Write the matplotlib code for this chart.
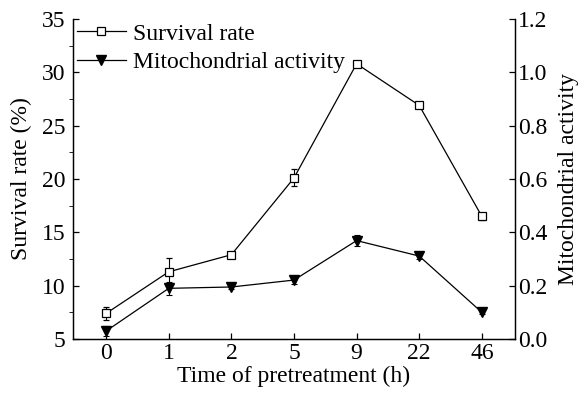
import matplotlib
matplotlib.use("Agg")
import matplotlib.pyplot as plt
from matplotlib.lines import Line2D
from matplotlib.ticker import MultipleLocator, FormatStrFormatter

plt.rcParams['font.family'] = ['Liberation Serif', 'DejaVu Serif']

# Pretreatment times (h), shown as evenly spaced categories
times = ["0", "1", "2", "5", "9", "22", "46"]

# Survival rate (%) with standard deviation
survival = [7.4, 11.3, 12.9, 20.1, 30.8, 26.9, 16.5]
survival_err = [0.6, 1.3, 0.3, 0.8, 0.3, 0.2, 0.3]

# Mitochondrial activity with standard deviation
mito = [0.03, 0.19, 0.195, 0.221, 0.369, 0.311, 0.10]
mito_err = [0.02, 0.025, 0.008, 0.015, 0.02, 0.01, 0.006]

FS = 17
LW = 0.9
fig = plt.figure(figsize=(5.82, 3.95), dpi=100)
ax = fig.add_axes([0.1254, 0.1418, 0.7595, 0.8101])
ax2 = ax.twinx()

x = list(range(len(times)))

sq_style = dict(color='black', lw=LW, marker='s', markersize=5.5,
                markerfacecolor='white', markeredgecolor='black',
                markeredgewidth=LW)
tri_style = dict(color='black', lw=LW, marker='v', markersize=7,
                 markerfacecolor='black', markeredgecolor='black')
err_style = dict(ecolor='black', elinewidth=0.8, capsize=2.5, capthick=0.8)

ax.errorbar(x, survival, yerr=survival_err, zorder=3, **sq_style, **err_style)
ax2.errorbar(x, mito, yerr=mito_err, zorder=3, **tri_style, **err_style)

ax.set_xlim(-0.53, 6.53)
ax.set_ylim(5, 35)
ax2.set_ylim(0.0, 1.2)

ax.set_xticks(x)
ax.set_xticklabels(times)
ax.yaxis.set_major_locator(MultipleLocator(5))
ax.yaxis.set_minor_locator(MultipleLocator(2.5))
ax2.yaxis.set_major_locator(MultipleLocator(0.2))
ax2.yaxis.set_major_formatter(FormatStrFormatter('%.1f'))

for a in (ax, ax2):
    a.spines['top'].set_visible(False)
    for s in a.spines.values():
        s.set_linewidth(LW)
    a.tick_params(direction='in', labelsize=FS, width=LW)
    a.tick_params(which='major', length=4.5)
    a.tick_params(which='minor', length=3)

ax.tick_params(axis='x', pad=3)
ax.tick_params(axis='y', pad=5.5)
ax2.tick_params(axis='y', pad=2)

ax.set_xlabel('Time of pretreatment (h)', fontsize=FS, labelpad=1)
ax.set_ylabel('Survival rate (%)', fontsize=FS, labelpad=7)
ax2.set_ylabel('Mitochondrial activity', fontsize=FS, labelpad=8)

handles = [Line2D([], [], **sq_style), Line2D([], [], **tri_style)]
ax.legend(handles, ['Survival rate', 'Mitochondrial activity'],
          loc='upper left', bbox_to_anchor=(0.008, 0.987), frameon=False,
          fontsize=FS, borderpad=0, borderaxespad=0, handlelength=2.1,
          handletextpad=0.3, labelspacing=0.3)

fig.savefig('out.png', dpi=100)
